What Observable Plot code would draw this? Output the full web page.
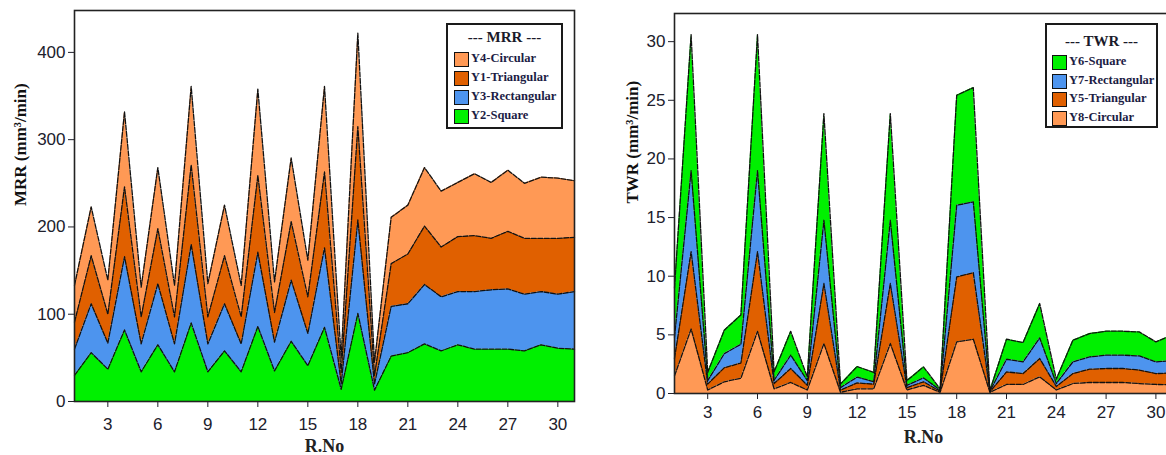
<!DOCTYPE html>
<html>
<head>
<meta charset="utf-8">
<script src="https://cdn.jsdelivr.net/npm/d3@7"></script>
<script src="https://cdn.jsdelivr.net/npm/@observablehq/plot@0.6"></script>
<style>
  html, body { margin: 0; padding: 0; background: #fff; overflow: hidden; }
  #stage { position: relative; width: 1166px; height: 455px; overflow: hidden; background: #fff; }
  .panel { position: absolute; top: 0; }
  .panel svg { max-width: none !important; }
  .legend { position: absolute; border: 2px solid #1a1a1a; background: #fff; box-sizing: border-box;
            font-family: "Liberation Serif", "DejaVu Serif", serif; font-weight: bold; color: #1c1c44; }
  .legend .ttl { position: absolute; left: 0; right: 0; text-align: center; font-size: 15px; color: #1a1a2a; }
  .legend .row { position: absolute; font-size: 12.5px; white-space: nowrap; }
  .legend .sw { position: absolute; width: 13px; height: 13px; border: 1.5px solid #111; }
</style>
</head>
<body>
<div id="stage"></div>
<script>
// ---- data ----
const runs = [1,2,3,4,5,6,7,8,9,10,11,12,13,14,15,16,17,18,19,20,21,22,23,24,25,26,27,28,29,30,31];
const xTicks = [3,6,9,12,15,18,21,24,27,30];

// MRR (mm3/min), stacked bottom -> top: Square, Rectangular, Triangular, Circular
const mrrSeries = ["Y2-Square", "Y3-Rectangular", "Y1-Triangular", "Y4-Circular"];
const mrrSquare = [30,56,37,82,34,65,34,90,34,58,34,86,35,69,41,85,14,101,13,52,56,66,58,65,60,60,60,58,65,61,60];
const mrrRect   = [30,56,30,84,32,70,32,90,32,54,32,85,33,70,37,91,6,107,7,57,56,68,62,61,66,68,69,65,61,62,66];
const mrrTri    = [31,55,33,80,31,63,31,91,31,55,31,88,34,67,42,87,13,107,10,49,57,67,57,63,64,59,66,64,61,64,62];
const mrrCirc   = [42,56,39,86,34,70,36,90,38,58,36,99,35,73,42,98,17,107,15,53,56,67,64,62,71,64,70,63,70,69,65];
const mrrYTicks = [0,100,200,300,400];
const mrrLegend = ["Y4-Circular", "Y1-Triangular", "Y3-Rectangular", "Y2-Square"];

// TWR (mm3/min), stacked bottom -> top: Circular, Triangular, Rectangular, Square
const twrSeries = ["Y8-Circular", "Y5-Triangular", "Y7-Rectangular", "Y6-Square"];
const twrCirc   = [1.5,5.5,0.3,1.0,1.3,5.3,0.4,0.94,0.3,4.26,0.1,0.4,0.4,4.26,0.3,0.7,0.1,4.4,4.63,0.1,0.77,0.77,1.42,0.3,0.85,0.94,0.94,0.94,0.85,0.77,0.75];
const twrTri    = [1.5,6.6,0.5,1.2,1.3,6.8,0.45,1.19,0.4,5.12,0.2,0.5,0.4,5.12,0.2,0.3,0.1,5.54,5.67,0.05,1.07,0.93,1.56,0.3,0.85,1.13,1.19,1.19,1.15,0.93,1.0];
const twrRect   = [1.8,6.9,0.3,1.2,1.6,6.9,0.28,1.14,0.4,5.39,0.2,0.5,0.2,5.39,0.2,0.33,0.1,6.11,6.03,0.05,1.08,1.0,1.76,0.25,1.0,1.05,1.14,1.14,1.2,1.0,1.05];
const twrSquare = [4.2,11.6,0.7,2.0,2.5,11.6,0.71,2.03,0.3,9.1,0.3,0.9,0.8,9.1,0.4,0.94,0.1,9.38,9.75,0.05,1.71,1.65,2.93,0.37,1.84,1.99,2.04,2.04,2.05,1.7,2.2];
const twrYTicks = [0,5,10,15,20,25,30];
const twrLegend = ["Y6-Square", "Y7-Rectangular", "Y5-Triangular", "Y8-Circular"];

// ---- colours by shape ----
const shapeColor = {Square: "#00f000", Rectangular: "#4d94ee", Triangular: "#e06000", Circular: "#ff9955"};
const colorOf = s => shapeColor[s.split("-")[1]];

function tidy(series, arrays) {
  const rows = [];
  series.forEach((s, i) => arrays[i].forEach((v, j) => rows.push({run: runs[j], series: s, value: v})));
  return rows;
}
const mrrData = tidy(mrrSeries, [mrrSquare, mrrRect, mrrTri, mrrCirc]);
const twrData = tidy(twrSeries, [twrCirc, twrTri, twrRect, twrSquare]);

const serif = "'Liberation Serif', 'DejaVu Serif', serif";

function chart(o) {
  return Plot.plot({
    width: o.width, height: 455,
    marginLeft: o.marginLeft, marginRight: o.marginRight, marginTop: o.marginTop, marginBottom: o.marginBottom,
    style: {fontFamily: "'Liberation Sans', Arial, sans-serif", fontSize: "17px", color: "#20202c", background: "transparent", overflow: "visible"},
    x: {domain: [1, 31], ticks: xTicks, label: null, tickSize: 6, tickPadding: o.xPad},
    y: {domain: o.yDomain, ticks: o.yTicks, label: null, tickSize: 6, tickPadding: 3},
    color: {domain: o.series, range: o.series.map(colorOf)},
    marks: [
      Plot.areaY(o.data, {x: "run", y: "value", z: "series", fill: "series", order: o.series}),
      Plot.lineY(o.data, Plot.stackY2({x: "run", y: "value", z: "series", order: o.series,
        stroke: "#111", strokeWidth: 1.3, strokeDasharray: "5,1.5"})),
      Plot.frame({stroke: "#222", strokeWidth: 1.6}),
      Plot.text([o.yLabel], {frameAnchor: "left", rotate: -90, dx: o.labelDx, fontFamily: serif,
        fontWeight: "bold", fontSize: 17, fill: "#111"}),
      Plot.text(["R.No"], {frameAnchor: "bottom", lineAnchor: "middle", dy: o.xLabelDy, fontFamily: serif,
        fontWeight: "bold", fontSize: 18, fill: "#222"})
    ]
  });
}

function legend(parent, box, title, labels) {
  const d = document.createElement("div");
  d.className = "legend";
  Object.assign(d.style, {left: box.left + "px", top: box.top + "px", width: box.width + "px", height: box.height + "px"});
  const t = document.createElement("div");
  t.className = "ttl"; t.textContent = title; t.style.top = box.titleTop + "px";
  d.appendChild(t);
  labels.forEach((lab, i) => {
    const sw = document.createElement("div");
    sw.className = "sw";
    Object.assign(sw.style, {left: box.swLeft + "px", top: (box.rowTop + i * box.rowGap) + "px", background: colorOf(lab)});
    d.appendChild(sw);
    const r = document.createElement("div");
    r.className = "row"; r.textContent = lab;
    Object.assign(r.style, {left: box.txtLeft + "px", top: (box.rowTop + i * box.rowGap - 1) + "px"});
    d.appendChild(r);
  });
  parent.appendChild(d);
}

const stage = document.getElementById("stage");

const p1 = document.createElement("div");
p1.className = "panel"; p1.style.left = "0px"; p1.style.width = "590px";
p1.appendChild(chart({data: mrrData, series: mrrSeries, yDomain: [0, 448], yTicks: mrrYTicks, xPad: 10, xLabelDy: 45,
  yLabel: "MRR (mm³/min)", width: 590, marginLeft: 74, marginRight: 16, marginTop: 10, marginBottom: 54, labelDx: -54}));
stage.appendChild(p1);

const p2 = document.createElement("div");
p2.className = "panel"; p2.style.left = "590px"; p2.style.width = "600px";
p2.appendChild(chart({data: twrData, series: twrSeries, yDomain: [0, 32.4], yTicks: twrYTicks, xPad: 6, xLabelDy: 44,
  yLabel: "TWR (mm³/min)", width: 600, marginLeft: 84, marginRight: 18, marginTop: 13, marginBottom: 62, labelDx: -42}));
stage.appendChild(p2);

legend(stage, {left: 446, top: 23, width: 117, height: 106, titleTop: 4, swLeft: 6, txtLeft: 23, rowTop: 27, rowGap: 19}, "--- MRR ---", mrrLegend);
legend(stage, {left: 1045, top: 23, width: 113, height: 105, titleTop: 8, swLeft: 5, txtLeft: 22, rowTop: 30, rowGap: 18.5}, "--- TWR ---", twrLegend);
</script>
</body>
</html>
